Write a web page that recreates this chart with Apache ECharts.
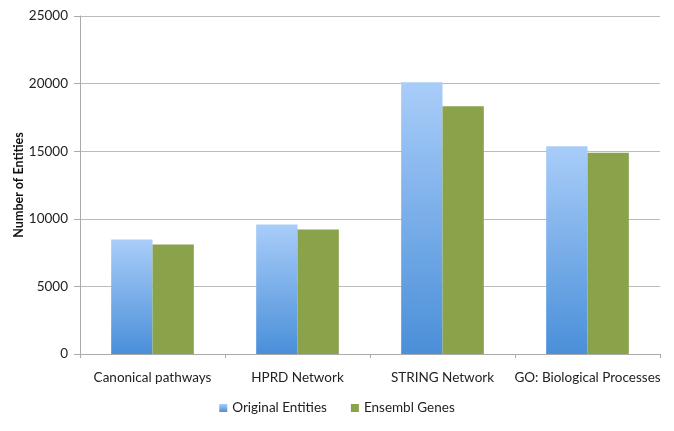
<!DOCTYPE html>
<html>
<head>
<meta charset="utf-8">
<script src="https://cdn.jsdelivr.net/npm/echarts@6/dist/echarts.min.js"></script>
<style>
  html, body { margin: 0; padding: 0; background: #fff; }
  #chart { width: 674px; height: 431px; }
</style>
</head>
<body>
<div id="chart"></div>
<script>
// 数据
const categories = ['Canonical pathways', 'HPRD Network', 'STRING Network', 'GO: Biological Processes'];
const originalEntities = [8470, 9580, 20100, 15370];
const ensemblGenes = [8100, 9210, 18330, 14880];
const yTicks = { min: 0, max: 25000, interval: 5000 };

const fontFamily = 'Lato, "Open Sans", sans-serif';

const chart = echarts.init(document.getElementById('chart'), null, { renderer: 'canvas' });

// 蓝色渐变（上浅下深）
const blueGradient = new echarts.graphic.LinearGradient(0, 0, 0, 1, [
  { offset: 0, color: '#a9cdf9' },
  { offset: 1, color: '#4a8fd9' }
]);

chart.setOption({
  animation: false,
  backgroundColor: '#ffffff',
  grid: { left: 80, right: 14, top: 16, bottom: 77, containLabel: false, outerBoundsMode: 'none' },
  legend: {
    bottom: 11,
    left: 'center',
    itemWidth: 8,
    itemHeight: 8,
    itemGap: 24,
    icon: 'rect',
    textStyle: { fontFamily: fontFamily, fontSize: 13.5, color: '#222' },
    data: ['Original Entities', 'Ensembl Genes']
  },
  xAxis: {
    type: 'category',
    data: categories,
    axisLine: { lineStyle: { color: '#aaaaaa' } },
    axisTick: { show: true, length: 4, lineStyle: { color: '#aaaaaa' } },
    axisLabel: { interval: 0, fontFamily: fontFamily, fontSize: 13.5, color: '#222', margin: 17 }
  },
  yAxis: {
    type: 'value',
    min: yTicks.min,
    max: yTicks.max,
    interval: yTicks.interval,
    name: 'Number of Entities',
    nameLocation: 'middle',
    nameRotate: 90,
    nameGap: 55,
    nameMoveOverlap: false,
    nameTextStyle: { fontFamily: fontFamily, fontSize: 12.5, fontWeight: 'bold', color: '#111' },
    axisLine: { show: true, lineStyle: { color: '#aaaaaa' } },
    axisTick: { show: true, length: 6, lineStyle: { color: '#aaaaaa' } },
    axisLabel: { fontFamily: fontFamily, fontSize: 13.5, color: '#222', margin: 12, formatter: v => String(v) },
    splitLine: { lineStyle: { color: '#bbbbbb', width: 1 } }
  },
  series: [
    {
      name: 'Original Entities',
      type: 'bar',
      data: originalEntities,
      barGap: '0%',
      barCategoryGap: '43%',
      itemStyle: { color: blueGradient }
    },
    {
      name: 'Ensembl Genes',
      type: 'bar',
      data: ensemblGenes,
      itemStyle: { color: '#8aa24a' }
    }
  ]
});
</script>
</body>
</html>
